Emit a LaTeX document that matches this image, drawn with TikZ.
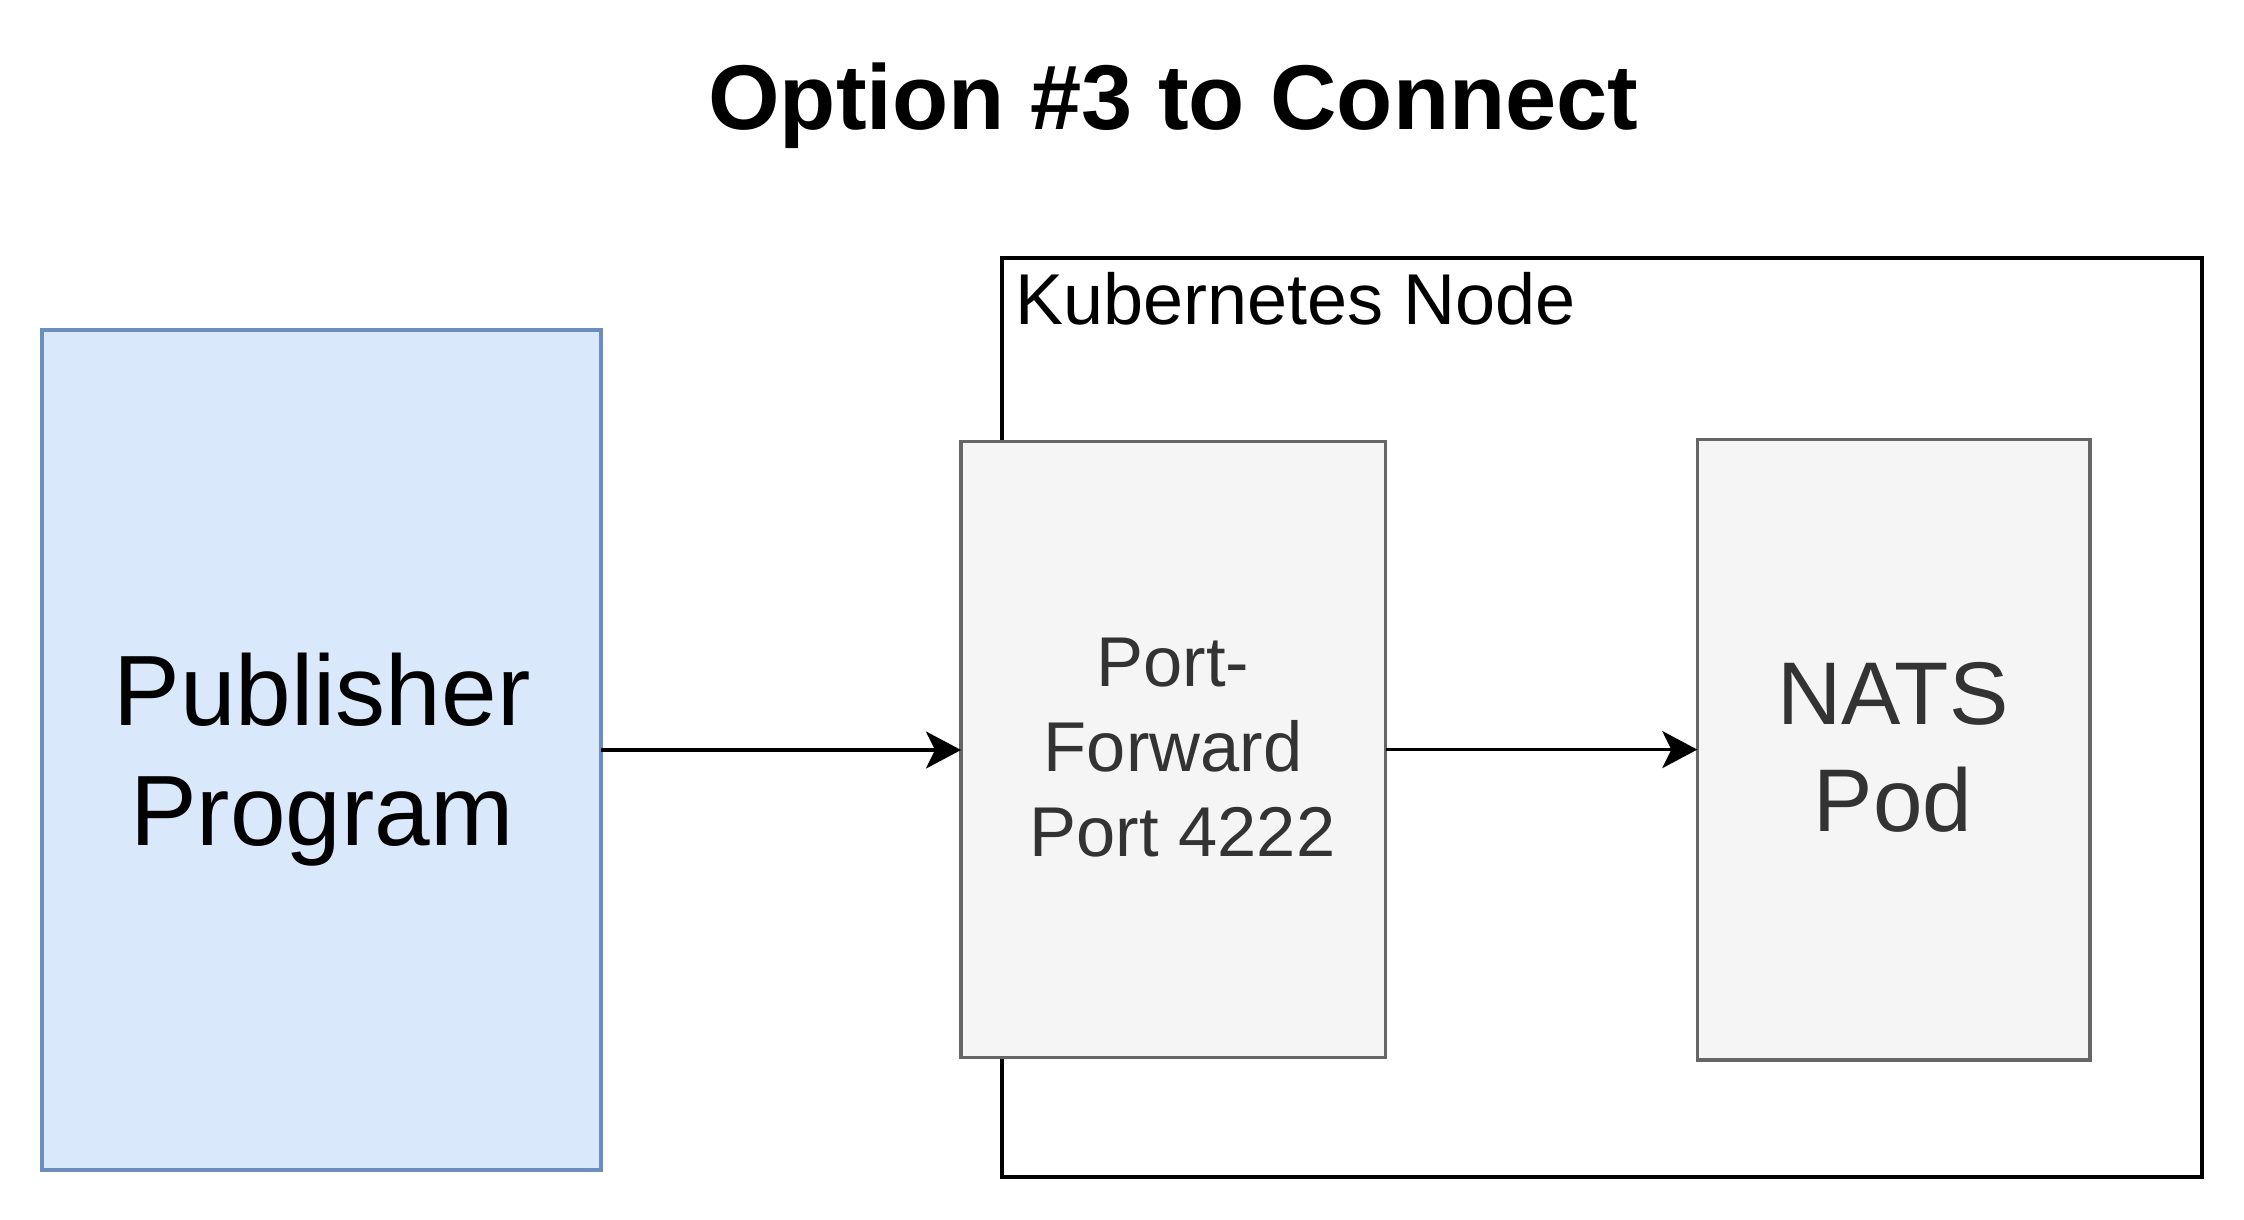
\documentclass[tikz,border=0pt]{standalone}
\usepackage{fontspec}
\setmainfont{Liberation Sans}
\usetikzlibrary{arrows.meta}
\definecolor{pubfill}{HTML}{DAE8FC}
\definecolor{pubdraw}{HTML}{6C8EBF}
\definecolor{grayfill}{HTML}{F5F5F5}
\definecolor{graydraw}{HTML}{666666}
\definecolor{graytext}{HTML}{333333}
\begin{document}
\begin{tikzpicture}[x=0.5pt,y=-0.5pt,
  boxbase/.style={rectangle, inner sep=0pt, outer sep=0pt},
  pubbox/.style={boxbase, draw=pubdraw, fill=pubfill, line width=1.7pt},
  graybox/.style={boxbase, draw=graydraw, fill=grayfill, line width=1.7pt},
  kubebox/.style={boxbase, draw=black, line width=2pt},
  pubtext/.style={align=center, inner sep=0pt, text=black, font=\fontsize{50}{60}\selectfont},
  pftext/.style={align=center, inner sep=0pt, text=graytext, font=\fontsize{35.25}{42.3}\selectfont},
  natstext/.style={align=center, inner sep=0pt, text=graytext, font=\fontsize{44.5}{53.4}\selectfont},
  conn/.style={line width=1.65pt, draw=black, -{Stealth[length=17.5pt,width=18.5pt,inset=4.5pt]}}
]
\fill[white] (0,0) rectangle (2244,1220);
\useasboundingbox (0,0) rectangle (2244,1220);

% title
\node[anchor=base, inner sep=0pt, font=\bfseries\fontsize{46}{55}\selectfont] (title) at (1173.4,129.3) {Option \#3 to Connect};

% Kubernetes node container
\node[kubebox, minimum width=600.15pt, minimum height=459.35pt] (kube) at (1601.85,717.65) {};
\node[anchor=base west, inner sep=0pt, font=\fontsize{36}{43}\selectfont] (kubelabel) at (1015,324.3) {Kubernetes Node};

% boxes
\node[pubbox, minimum width=279.5pt, minimum height=420pt] (pub) at (321.5,750) {};
\node[graybox, minimum width=212.25pt, minimum height=308.1pt] (pf) at (1173.25,749.6) {};
\node[graybox, minimum width=196.35pt, minimum height=310.35pt] (nats) at (1893.65,749.65) {};

% texts
\node[pubtext] (pubtxt) at (322,759.7) {Publisher\\Program};
\node[pftext] (pftxt) at (1173,747.5) {Port-\\Forward\\\null\kern9.5pt Port 4222};
\node[natstext] (natstxt) at (1893,747) {NATS\\Pod};

% connectors
\draw[conn] (pub.east) -- (pub.east -| pf.west);
\draw[conn] (pf.east) -- (pf.east -| nats.west);
\end{tikzpicture}
\end{document}
